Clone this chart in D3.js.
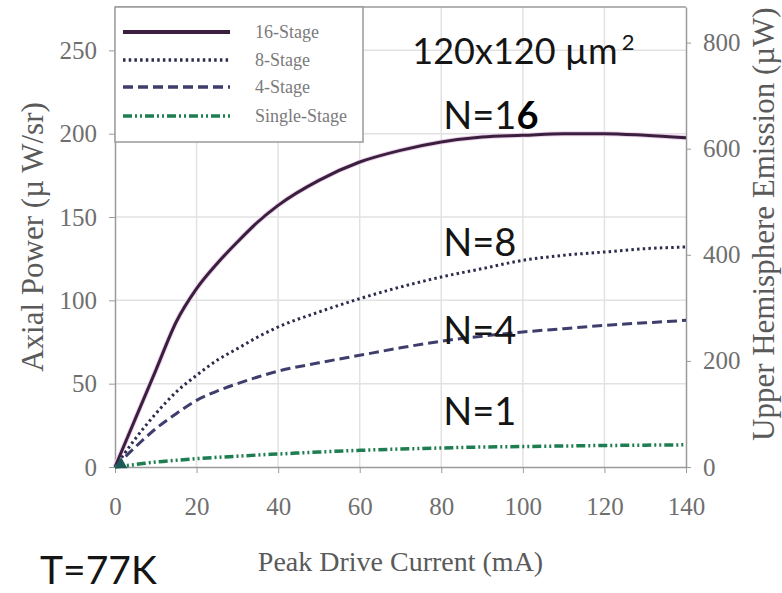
<!DOCTYPE html>
<html>
<head>
<meta charset="utf-8">
<script src="https://cdn.jsdelivr.net/npm/d3@7"></script>
<style>
  body { margin: 0; background: #fff; }
  .tick text { font-family: "Liberation Serif", serif; fill: #6f6f6f; }
  .axis path, .axis line { stroke: #9a9a9a; }
  .title { font-family: "Liberation Serif", serif; fill: #5a5a5a; }
  .note { font-family: Lato, "Open Sans", sans-serif; fill: #151515; }
</style>
</head>
<body>
<div id="chart"></div>
<script>

// drive current (mA) for every sampled point
var current = [0, 5, 10, 15, 20, 25, 30, 35, 40, 50, 60, 70, 80, 90, 100, 110, 120, 130, 140];

// axial power (uW/sr), one list per stage count
var stage16 = [0, 29, 58, 87, 107, 122, 135, 147, 157, 172, 183, 190, 195, 198, 199, 200, 200, 199, 197.5];
var stage8  = [0, 17, 32, 45, 55, 64, 71, 78, 84, 93, 101, 108, 114, 119, 124, 127, 129, 131, 132];
var stage4  = [0, 12, 23, 32, 40, 45.5, 50, 54, 57.5, 62.5, 67, 71.5, 75.5, 78.5, 81, 83, 85, 86.5, 88];
var stage1  = [0, 1.5, 3, 4, 5, 5.8, 6.5, 7.2, 7.8, 9, 10, 10.8, 11.4, 12, 12.3, 12.6, 12.9, 13.1, 13.3];

var seriesNames = ["16-Stage", "8-Stage", "4-Stage", "Single-Stage"];
var seriesValues = [stage16, stage8, stage4, stage1];
var seriesLabels = [["N=1", "6"], ["N=8", ""], ["N=4", ""], ["N=1", ""]];
var labelValues = [203, 126.5, 73.7, 25.2];

var xTicks = [0, 20, 40, 60, 80, 100, 120, 140];
var yTicks = [0, 50, 100, 150, 200, 250];
var y2Ticks = [0, 200, 400, 600, 800];

var params = {
  width: 782, height: 593,
  left: 115, right: 686, top: 7, bottom: 467,
  colors: ["#3b1f3e", "#2c2c4e", "#3e3d6c", "#1f7d52"],
  dashes: [null, "2.5,3.2", "10,5", "9,3,2,3,2,3"]
};

var svg = d3.select("#chart").append("svg")
    .attr("width", params.width)
    .attr("height", params.height);

var x = d3.scaleLinear().domain([0, 140]).range([params.left, params.right]);
var y = d3.scaleLinear().domain([0, 276]).range([params.bottom, params.top]);
// right axis: hemisphere emission = pi * axial power
var y2 = d3.scaleLinear().domain([0, 276 * Math.PI]).range([params.bottom, params.top]);

// grid
svg.append("g").selectAll("line")
    .data(yTicks.slice(1)).enter().append("line")
    .attr("x1", params.left).attr("x2", params.right)
    .attr("y1", function(d) { return y(d); }).attr("y2", function(d) { return y(d); })
    .attr("stroke", "#e2e2e2").attr("stroke-width", 1.5);
svg.append("g").selectAll("line")
    .data(xTicks.slice(1, -1)).enter().append("line")
    .attr("y1", params.top).attr("y2", params.bottom)
    .attr("x1", function(d) { return x(d); }).attr("x2", function(d) { return x(d); })
    .attr("stroke", "#e2e2e2").attr("stroke-width", 1.5);

// axes
var left_axis = d3.axisLeft(y).tickValues(yTicks).tickSize(6).tickPadding(12).tickSizeOuter(0);
svg.append("g").attr("class", "axis")
    .attr("transform", "translate(" + params.left + ",0)")
    .call(left_axis)
    .selectAll("text").style("font-size", "25px");

var bottom_axis = d3.axisBottom(x).tickValues(xTicks).tickSize(6).tickPadding(24).tickSizeOuter(0);
svg.append("g").attr("class", "axis")
    .attr("transform", "translate(0," + params.bottom + ")")
    .call(bottom_axis)
    .selectAll("text").style("font-size", "25px");

var right_axis = d3.axisRight(y2).tickValues(y2Ticks).tickSize(5).tickPadding(12).tickSizeOuter(0);
svg.append("g").attr("class", "axis")
    .attr("transform", "translate(" + params.right + ",0)")
    .call(right_axis)
    .selectAll("text").style("font-size", "25px");

// top frame line
svg.append("line")
    .attr("x1", params.left).attr("x2", params.right)
    .attr("y1", params.top).attr("y2", params.top)
    .attr("stroke", "#9a9a9a").attr("stroke-width", 1.5);
svg.selectAll(".axis path").attr("stroke-width", 1.5);

// curves
var line = d3.line()
    .x(function(d) { return x(d[0]); })
    .y(function(d) { return y(d[1]); })
    .curve(d3.curveMonotoneX);

seriesValues.forEach(function(vals, i) {
  var pts = current.map(function(c, k) { return [c, vals[k]]; });
  if (i == 0) {
    svg.append("path").attr("d", line(pts))
        .attr("fill", "none").attr("stroke", "#ecd3ec").attr("stroke-width", 5);
  }
  svg.append("path").attr("d", line(pts))
      .attr("fill", "none")
      .attr("stroke", params.colors[i])
      .attr("stroke-width", i == 3 ? 3.5 : 3)
      .attr("stroke-dasharray", params.dashes[i]);
});

// small marker at the origin
svg.append("path")
    .attr("d", d3.symbol().type(d3.symbolTriangle).size(70))
    .attr("transform", "translate(" + x(1.5) + "," + y(1.5) + ")")
    .attr("fill", "#1d5a55");

// legend
svg.append("rect")
    .attr("x", params.left).attr("y", params.top)
    .attr("width", 248).attr("height", 135)
    .attr("fill", "#fff").attr("stroke", "#9a9a9a").attr("stroke-width", 1.5);

var legend = svg.selectAll(".legend")
    .data(seriesNames).enter().append("g")
    .attr("class", "legend")
    .attr("transform", function(d, i) { return "translate(0," + [32, 60, 87, 116][i] + ")"; });

legend.append("line")
    .attr("x1", 123).attr("x2", 230)
    .attr("stroke", function(d, i) { return params.colors[i]; })
    .attr("stroke-width", function(d, i) { return i == 0 ? 4 : 3.5; })
    .attr("stroke-dasharray", function(d, i) { return params.dashes[i]; });

legend.append("text")
    .attr("x", 255).attr("y", 6)
    .style("font-family", "Liberation Serif, serif")
    .style("font-size", "18px")
    .style("fill", "#7a7a7a")
    .text(function(d) { return d; });

// axis titles
svg.append("text").attr("class", "title")
    .attr("transform", "translate(43," + ((params.top + params.bottom) / 2) + ") rotate(-90)")
    .attr("text-anchor", "middle")
    .style("font-size", "31px")
    .text("Axial Power (\u00b5 W/sr)");

svg.append("text").attr("class", "title")
    .attr("transform", "translate(774,441) rotate(-90)")
    .attr("text-anchor", "start")
    .style("font-size", "31px")
    .text("Upper Hemisphere Emission (\u00b5W)");

svg.append("text").attr("class", "title")
    .attr("x", (params.left + params.right) / 2)
    .attr("y", 571)
    .attr("text-anchor", "middle")
    .style("font-size", "28px")
    .text("Peak Drive Current (mA)");

// annotations
var area = svg.append("text").attr("class", "note")
    .attr("x", x(72.9)).attr("y", y(242))
    .style("font-size", "36px")
    .text("120x120 \u00b5m");
area.append("tspan")
    .attr("dy", "-0.62em").attr("dx", "4")
    .style("font-size", "22px")
    .text("2");

var nlabels = svg.selectAll(".nlabel")
    .data(seriesLabels).enter().append("text")
    .attr("class", "note nlabel")
    .attr("x", x(80.5))
    .attr("y", function(d, i) { return y(labelValues[i]); })
    .style("font-size", "38px")
    .text(function(d) { return d[0]; });
nlabels.append("tspan")
    .style("font-weight", "bold")
    .style("fill", "#000")
    .text(function(d) { return d[1]; });

svg.append("text").attr("class", "note")
    .attr("x", 40).attr("y", 584)
    .style("font-size", "39px")
    .text("T=77K");

</script>
</body>
</html>
